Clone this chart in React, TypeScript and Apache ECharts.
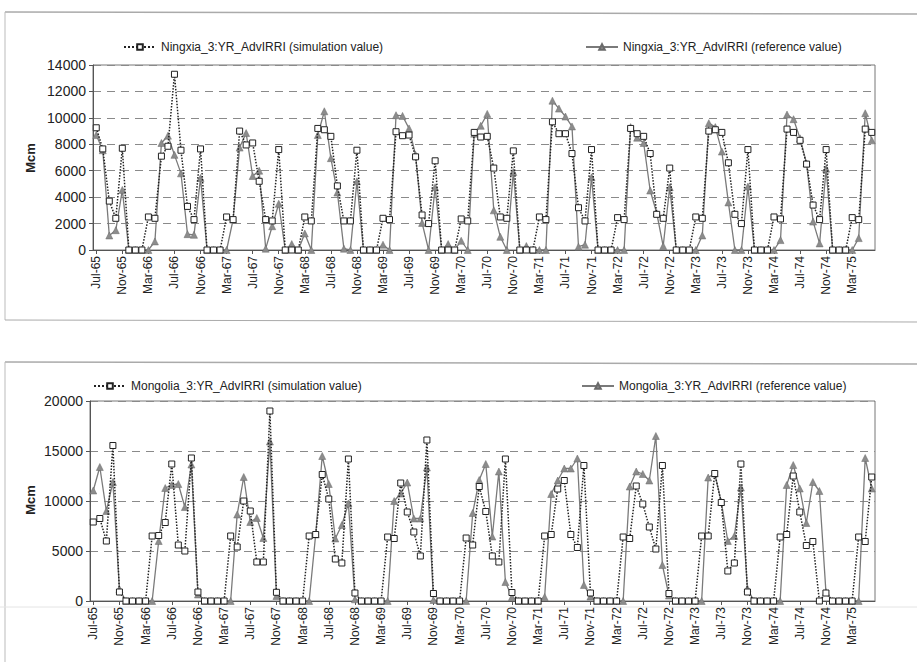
import React, { useEffect, useRef } from "react";
import * as echarts from "echarts";

const MONTHS = ["Jan", "Feb", "Mar", "Apr", "May", "Jun", "Jul", "Aug", "Sep", "Oct", "Nov", "Dec"];
// Monthly categories Jul-65 .. Jun-75
const categories: string[] = [];
for (let k = 0; k < 120; k++) {
  const m = (6 + k) % 12;
  const y = 65 + Math.floor((6 + k) / 12);
  categories.push(`${MONTHS[m]}-${y}`);
}

const ningxiaSim = [
  9250, 7650, 3700, 2400, 7700, 0, 0, 0, 2500, 2400, 7100, 7850,
  13300, 7550, 3300, 2300, 7650, 0, 0, 0, 2500, 2300, 9000, 7950,
  8100, 5200, 2300, 2200, 7600, 0, 0, 0, 2500, 2200, 9200, 9100,
  8600, 4850, 2200, 2200, 7550, 0, 0, 0, 2400, 2300, 8950, 8650,
  8700, 7050, 2650, 2000, 6750, 0, 0, 0, 2350, 2200, 8900, 8550,
  8600, 6200, 2500, 2400, 7500, 0, 0, 0, 2500, 2300, 9700, 8800,
  8800, 7300, 3200, 2200, 7600, 0, 0, 0, 2450, 2300, 9200, 8800,
  8600, 7300, 2700, 2400, 6200, 0, 0, 0, 2500, 2400, 9000, 9100,
  8900, 6600, 2700, 2000, 7600, 0, 0, 0, 2500, 2350, 9150, 8900,
  8300, 6500, 3400, 2300, 7600, 0, 0, 0, 2450, 2300, 9150, 8900,
];

const ningxiaRef = [
  8700, 7550, 1100, 1500, 4550, 0, 0, 0, 0, 650, 8100, 8650,
  7200, 5800, 1200, 1150, 5450, 0, 0, 0, 0, 2300, 7750, 8850,
  5600, 6000, 100, 1800, 3500, 0, 450, 0, 1250, 0, 8700, 10500,
  6950, 4350, 100, 0, 5200, 0, 0, 0, 400, 0, 10200, 10150,
  9200, 7200, 2050, 0, 4750, 0, 450, 0, 700, 0, 8800, 9400,
  10300, 3000, 1000, 0, 5900, 0, 300, 0, 0, 0, 11300, 10700,
  10100, 9350, 250, 400, 5500, 0, 0, 0, 0, 0, 9300, 8500,
  8100, 4500, 2800, 300, 4750, 0, 0, 0, 0, 1100, 9600, 9300,
  7450, 3600, 0, 0, 4800, 0, 0, 0, 0, 750, 10250, 9900,
  8450, 6550, 2150, 500, 6150, 0, 0, 0, 0, 900, 10350, 8300,
];

const mongoliaSim = [
  7900, 8250, 6000, 15550, 900, 0, 0, 0, 0, 6500, 6550, 7850,
  13700, 5600, 5000, 14300, 900, 0, 0, 0, 0, 6500, 5400, 10000,
  9000, 3900, 3900, 19000, 870, 0, 0, 0, 0, 6500, 6650, 12650,
  10200, 4200, 3800, 14200, 800, 0, 0, 0, 0, 6400, 6250, 11800,
  8900, 6900, 4500, 16100, 750, 0, 0, 0, 0, 6300, 5600, 11450,
  8950, 4500, 3900, 14200, 850, 0, 0, 0, 0, 6500, 6650, 11200,
  12050, 6650, 5350, 13550, 800, 0, 0, 0, 0, 6400, 6250, 11500,
  9700, 7400, 5200, 13550, 750, 0, 0, 0, 0, 6500, 6500, 12750,
  9850, 3000, 3800, 13700, 900, 0, 0, 0, 0, 6400, 6650, 12500,
  8900, 5550, 5950, 0, 800, 0, 0, 0, 0, 6400, 5950, 12400,
];

const mongoliaRef = [
  11050, 13400, 9000, 11900, 1200, 0, 0, 0, 0, 0, 6000, 11300,
  11600, 11700, 9400, 13650, 650, 0, 0, 0, 0, 0, 8650, 12400,
  7900, 8300, 6300, 15950, 500, 0, 0, 0, 0, 0, 6650, 14500,
  11700, 6250, 7600, 9750, 170, 0, 0, 0, 0, 0, 10000, 10750,
  11850, 8250, 8250, 13350, 100, 0, 0, 0, 0, 0, 8800, 12100,
  13700, 6450, 12950, 1900, 400, 0, 0, 0, 0, 400, 10700, 12050,
  13250, 13250, 14250, 1600, 450, 0, 0, 0, 0, 0, 11450, 12950,
  12700, 12050, 16500, 3600, 550, 0, 0, 0, 0, 0, 12350, 12750,
  9900, 6000, 6500, 11350, 1250, 0, 0, 0, 0, 0, 11600, 13600,
  11250, 7800, 11900, 11000, 900, 0, 0, 0, 0, 0, 14300, 11250,
];

const nxSimName = "Ningxia_3:YR_AdvIRRI (simulation value)";
const nxRefName = "Ningxia_3:YR_AdvIRRI (reference value)";
const mgSimName = "Mongolia_3:YR_AdvIRRI (simulation value)";
const mgRefName = "Mongolia_3:YR_AdvIRRI (reference value)";

const FONT = "'Liberation Sans', Arial, sans-serif";

function xAxisCfg(gridIndex: number) {
  return {
    type: "category",
    gridIndex,
    data: categories,
    boundaryGap: true,
    axisLine: { lineStyle: { color: "#555", width: 1 } },
    axisTick: { show: true, interval: 3, alignWithLabel: true, length: 4, lineStyle: { color: "#555" } },
    axisLabel: { interval: 3, rotate: 90, fontSize: 12, color: "#222", fontFamily: FONT, margin: 6 },
    splitLine: { show: false },
  };
}

function yAxisCfg(gridIndex: number, max: number, interval: number) {
  return {
    type: "value",
    gridIndex,
    min: 0,
    max,
    interval,
    axisLine: { show: true, lineStyle: { color: "#555", width: 1 } },
    axisTick: { show: true, length: 4, lineStyle: { color: "#555" } },
    axisLabel: { fontSize: 14, color: "#222", fontFamily: FONT, margin: 7, formatter: (v: number) => String(v) },
    splitLine: { show: true, lineStyle: { color: "#8a8a8a", type: [8, 6], width: 1 } },
  };
}

function simSeries(name: string, data: number[], idx: number) {
  return {
    name,
    type: "line",
    xAxisIndex: idx,
    yAxisIndex: idx,
    data,
    z: 3,
    symbol: "rect",
    symbolSize: 6,
    showAllSymbol: true,
    itemStyle: { color: "#ffffff", borderColor: "#222", borderWidth: 1 },
    lineStyle: { type: "dotted", color: "#222", width: 1.5 },
  };
}

function refSeries(name: string, data: number[], idx: number) {
  return {
    name,
    type: "line",
    xAxisIndex: idx,
    yAxisIndex: idx,
    data,
    z: 2,
    symbol: "triangle",
    symbolSize: 7,
    showAllSymbol: true,
    itemStyle: { color: "#8c8c8c", borderColor: "#6a6a6a", borderWidth: 0.5 },
    lineStyle: { type: "solid", color: "#7a7a7a", width: 1.3 },
  };
}

function legendCfg(name: string, left: number, top: number) {
  return {
    data: [name],
    left,
    top,
    orient: "horizontal",
    itemWidth: 32,
    itemHeight: 7,
    itemGap: 5,
    selectedMode: false,
    textStyle: { fontSize: 12, color: "#222", fontFamily: FONT },
  };
}

export default function App() {
  const ref = useRef<HTMLDivElement>(null);
  useEffect(() => {
    if (!ref.current) return;
    const chart = echarts.init(ref.current, null, { renderer: "svg" });
    chart.setOption({
      animation: false,
      backgroundColor: "#ffffff",
      textStyle: { fontFamily: FONT },
      legend: [
        legendCfg(nxSimName, 118, 36),
        legendCfg(nxRefName, 580, 36),
        legendCfg(mgSimName, 88, 375),
        legendCfg(mgRefName, 576, 375),
      ],
      grid: [
        { left: 93, right: 42, top: 65, height: 185, show: true, borderColor: "#777", borderWidth: 1 },
        { left: 90, right: 42, top: 401, height: 200, show: true, borderColor: "#777", borderWidth: 1 },
      ],
      xAxis: [xAxisCfg(0), xAxisCfg(1)],
      yAxis: [yAxisCfg(0, 14000, 2000), yAxisCfg(1, 20000, 5000)],
      series: [
        refSeries(nxRefName, ningxiaRef, 0),
        simSeries(nxSimName, ningxiaSim, 0),
        refSeries(mgRefName, mongoliaRef, 1),
        simSeries(mgSimName, mongoliaSim, 1),
      ],
      graphic: [
        { type: "line", shape: { x1: 5, y1: 12, x2: 917, y2: 14 }, style: { stroke: "#aaa", lineWidth: 1.5 } },
        { type: "line", shape: { x1: 5, y1: 12, x2: 5, y2: 320 }, style: { stroke: "#bbb", lineWidth: 1 } },
        { type: "line", shape: { x1: 5, y1: 320, x2: 917, y2: 322 }, style: { stroke: "#aaa", lineWidth: 1 } },
        { type: "line", shape: { x1: 5, y1: 362, x2: 917, y2: 364 }, style: { stroke: "#aaa", lineWidth: 1.5 } },
        { type: "line", shape: { x1: 5, y1: 362, x2: 5, y2: 662 }, style: { stroke: "#bbb", lineWidth: 1 } },
        { type: "line", shape: { x1: 0, y1: 607, x2: 917, y2: 607 }, style: { stroke: "#e4e4e4", lineWidth: 1 } },
        {
          type: "text", x: 30, y: 158, rotation: Math.PI / 2,
          style: { text: "Mcm", fontSize: 13, fontWeight: "bold", fill: "#222", font: `bold 13px ${FONT}`, align: "center", verticalAlign: "middle" },
        },
        {
          type: "text", x: 30, y: 500, rotation: Math.PI / 2,
          style: { text: "Mcm", fontSize: 13, fontWeight: "bold", fill: "#222", font: `bold 13px ${FONT}`, align: "center", verticalAlign: "middle" },
        },
      ],
    });
    return () => chart.dispose();
  }, []);
  return <div ref={ref} style={{ position: "fixed", left: 0, top: 0, width: 917, height: 662 }} />;
}
